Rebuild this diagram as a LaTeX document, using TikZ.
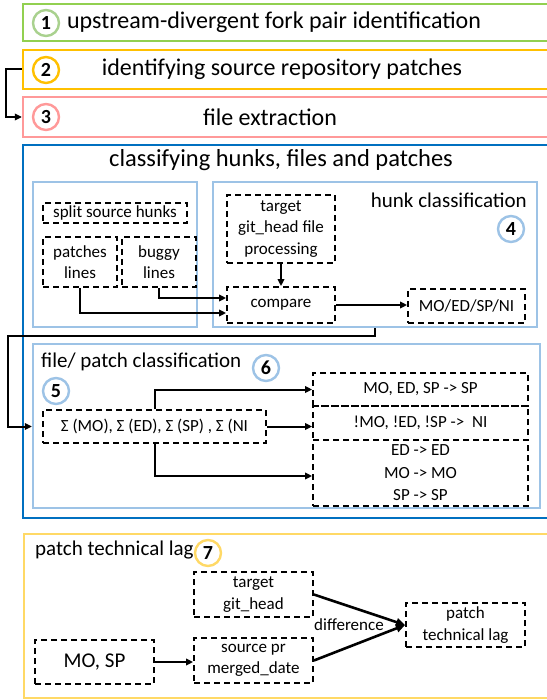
\documentclass[tikz,border=0pt]{standalone}
\usepackage{fontspec}
\setmainfont{Carlito}
\usetikzlibrary{arrows.meta,calc}
\definecolor{cgreen}{HTML}{92D050}
\definecolor{cgreenl}{HTML}{A9D18E}
\definecolor{cgold}{HTML}{FFC000}
\definecolor{cpink}{HTML}{FF9999}
\definecolor{cdblue}{HTML}{0070C0}
\definecolor{clblue}{HTML}{9DC3E6}
\definecolor{cyellow}{HTML}{FFD966}
\begin{document}
\begin{tikzpicture}[x=1pt,y=-1pt,
  frame/.style={draw=#1,line width=2.2pt,inner sep=0pt},
  dbox/.style={draw,line width=1.8pt,dash pattern=on 6pt off 4pt,inner sep=0pt,align=center,font=\fontsize{17}{21.5}\selectfont},
  arr/.style={line width=2pt,-{Triangle[length=7pt,width=6.5pt]}},
  thickarr/.style={line width=2.6pt,-{Triangle[length=9pt,width=8pt]}},
  num/.style={circle,draw=#1,line width=2.4pt,minimum size=26pt,inner sep=0pt,font=\fontsize{20}{20}\selectfont\bfseries},
  rowtext/.style={inner sep=0pt,font=\fontsize{24}{24}\selectfont},
  sectext/.style={inner sep=0pt,font=\fontsize{21}{21}\selectfont}]
\useasboundingbox (0,0) rectangle (546,700);
\fill[white] (0,0) rectangle (546,700);

% top rows
\node[frame=cgreen,minimum width=527pt,minimum height=37pt] (b1) at (286.5,22.5) {};
\node[frame=cgold,minimum width=527pt,minimum height=39pt] (b2) at (286.5,69.5) {};
\node[frame=cpink,minimum width=527pt,minimum height=40pt] (b3) at (286.5,117) {};
\node[rowtext] (t1) at (274,22) {upstream-divergent fork pair identification};
\node[rowtext] (t2) at (282,69) {identifying source repository patches};
\node[rowtext] (t3) at (270,117) {file extraction};
\node[num=cgreenl] (c1) at (46,23) {1};
\node[num=cgold] (c2) at (46,70) {2};
\node[num=cpink] (c3) at (46,117) {3};
\draw[arr] (b2.west) -- ++(-16,0) |- (b3.west);

% classifying
\node[frame=cdblue,minimum width=527pt,minimum height=373pt] (cls) at (286.5,331.5) {};
\node[inner sep=0pt,font=\fontsize{24.5}{24.5}\selectfont] (title) at (281,160) {classifying hunks, files and patches};
\node[frame=clblue,minimum width=164pt,minimum height=145pt] (left) at (115,254.5) {};
\node[frame=clblue,minimum width=324pt,minimum height=145pt] (hunk) at (375,254.5) {};
\node[sectext,anchor=east] (hunkt) at (527,200) {hunk classification};
\node[num=clblue] (c4) at (511,229) {4};

\node[dbox,minimum width=144pt,minimum height=20pt] (split) at (115,213) {split source hunks};
\node[dbox,minimum width=74pt,minimum height=50pt] (patches) at (80,262) {patches\\lines};
\node[dbox,minimum width=74pt,minimum height=50pt] (buggy) at (159,262) {buggy\\lines};
\node[dbox,minimum width=108pt,minimum height=68pt] (target) at (281,229) {target\\git\_head file\\processing};
\node[dbox,minimum width=108pt,minimum height=36pt] (compare) at (281,305) {compare};
\node[dbox,minimum width=117pt,minimum height=34pt] (moed) at (466.5,306) {MO/ED/SP/NI};

\draw[arr] (target.south) -- (compare.north);
\draw[arr] (buggy.south) |- ($(compare.west)+(0,-7)$);
\draw[arr] (patches.south) |- ($(compare.west)+(0,8)$);
\draw[arr] (compare.east) -- (compare.east -| moed.west);

% file / patch classification
\node[frame=clblue,minimum width=507pt,minimum height=164pt] (fp) at (286.5,426) {};
\node[sectext,anchor=west] (fpt) at (41,362) {file/ patch classification};
\node[num=clblue] (c6) at (266,368) {6};
\node[num=clblue] (c5) at (56,391) {5};
\node[dbox,minimum width=223pt,minimum height=33pt] (sigma) at (154.5,426.5) {Σ (MO), Σ (ED), Σ (SP) , Σ (NI};
\node[dbox,minimum width=215pt,minimum height=33pt] (r1) at (420.5,389.5) {MO, ED, SP -> SP};
\node[dbox,minimum width=215pt,minimum height=34pt] (r2) at (420.5,423) {!MO, !ED, !SP ->\ \ NI};
\node[dbox,minimum width=215pt,minimum height=66pt,font=\fontsize{17}{22.5}\selectfont] (r3) at (420.5,473) {ED -> ED\\MO -> MO\\SP -> SP};

\draw[arr] (hunk.south) -- ++(0,8) -| (8,400) |- (fp.west |- sigma.west);
\draw[arr] (sigma.north) |- (r1.west);
\draw[arr] (sigma.east) -- (sigma.east -| r2.west);
\draw[arr] (sigma.south) |- ($(r3.west)+(0,3)$);

% patch technical lag
\node[frame=cyellow,minimum width=526pt,minimum height=164pt] (lag) at (287,616) {};
\node[sectext,anchor=west] (lagt) at (35,550) {patch technical lag};
\node[num=cyellow] (c7) at (208,553) {7};
\node[dbox,minimum width=119pt,minimum height=45pt] (tgh) at (253.5,594.5) {target\\git\_head};
\node[dbox,minimum width=119pt,minimum height=45pt] (src) at (253.5,660.5) {source pr\\merged\_date};
\node[dbox,minimum width=119pt,minimum height=44pt,font=\fontsize{21}{21}\selectfont] (mosp) at (94.5,662) {MO, SP};
\node[dbox,minimum width=119pt,minimum height=44pt] (ptl) at (465.5,625) {patch\\technical lag};
\node[inner sep=0pt,font=\fontsize{17}{17}\selectfont] (diff) at (349,625) {difference};

\draw[arr] (mosp.east) -- (mosp.east -| src.west);
\draw[thickarr] (tgh.east) -- (ptl.west);
\draw[thickarr] (src.east) -- (ptl.west);
\end{tikzpicture}
\end{document}
